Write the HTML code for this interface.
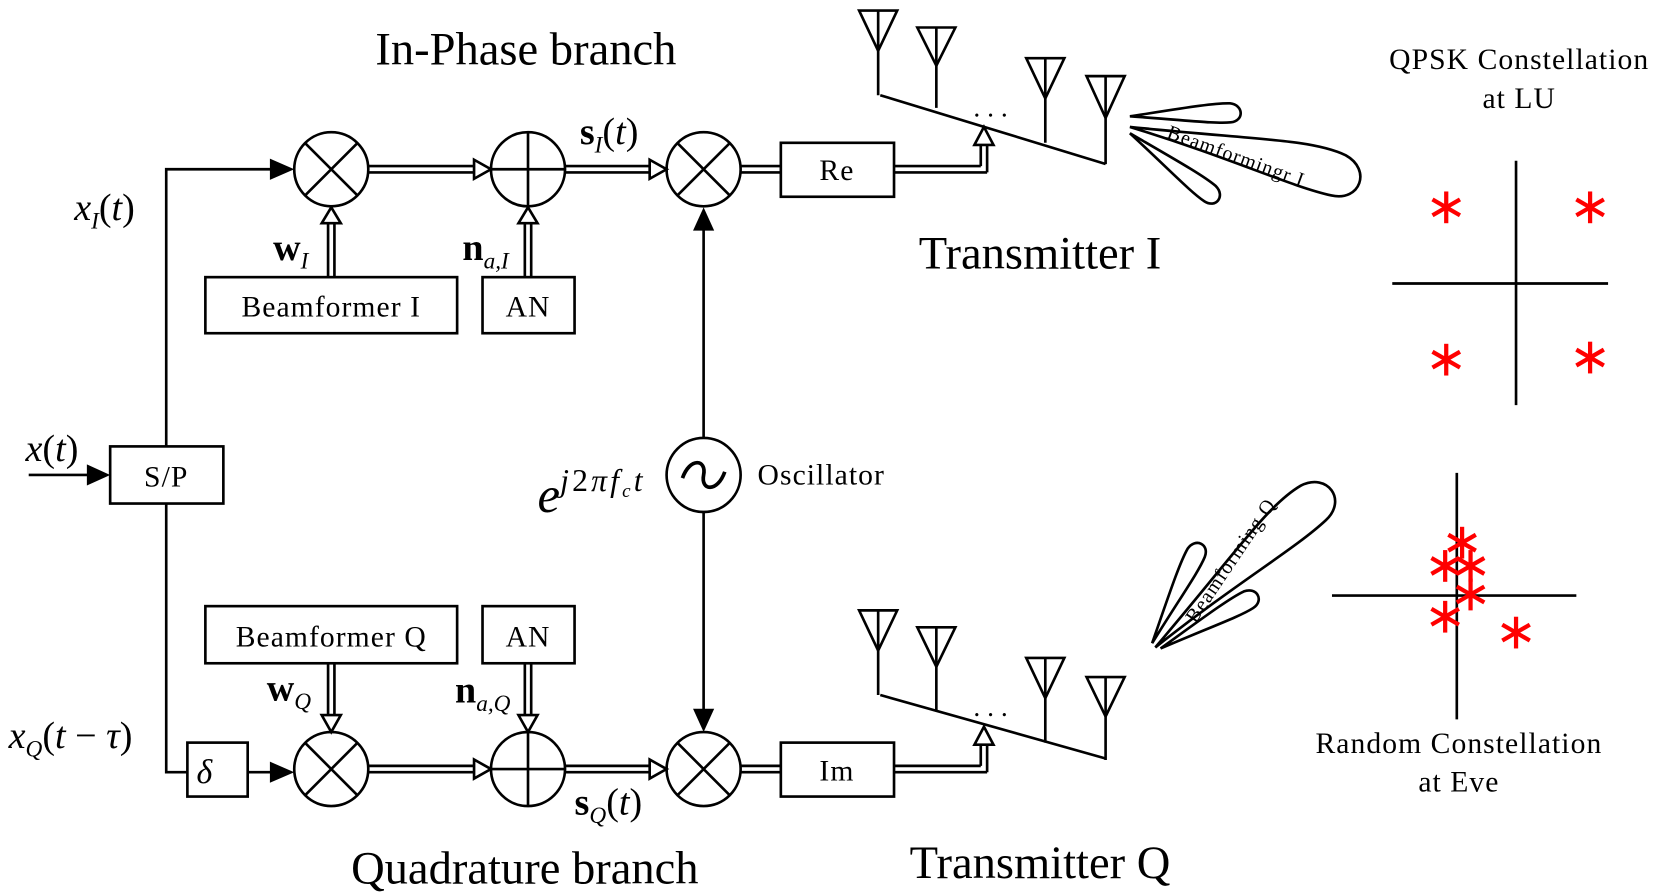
<!DOCTYPE html>
<html><head><meta charset="utf-8"><style>
html,body{margin:0;padding:0;background:#fff;}
svg{display:block;}
text{font-family:"Liberation Serif",serif;fill:#000;}
</style></head><body>
<svg width="1659" height="896" viewBox="0 0 1568 847" xmlns="http://www.w3.org/2000/svg">
<defs>
<g id="star"><g stroke="#f00" stroke-width="4" stroke-linecap="butt">
<line x1="0" y1="-15" x2="0" y2="15"/><line x1="-13" y1="-7.5" x2="13" y2="7.5"/><line x1="-13" y1="7.5" x2="13" y2="-7.5"/></g></g>
<g id="ant" fill="none" stroke="#000" stroke-width="2.5"><polygon points="-18,0 18,0 0,38"/><line x1="0" y1="0" x2="0" y2="80"/></g>
</defs>
<g fill="none" stroke="#000" stroke-width="2.5">
<circle cx="313" cy="160" r="35"/><circle cx="499" cy="160" r="35"/><circle cx="665" cy="160" r="35"/>
<circle cx="313" cy="727" r="35"/><circle cx="499" cy="727" r="35"/><circle cx="665" cy="727" r="35"/>
<circle cx="665" cy="449" r="35"/>
<path d="M288,135 L338,185 M338,135 L288,185 M640,135 L690,185 M690,135 L640,185 M288,702 L338,752 M338,702 L288,752 M640,702 L690,752 M690,702 L640,752"/>
<path d="M464,160 H534 M499,125 V195 M464,727 H534 M499,692 V762"/>
<path d="M645,452 C652,432 668,434 665,449 C662,464 678,466 685,446" stroke-width="3.5"/>
<rect x="194" y="262" width="238" height="53"/><rect x="456" y="262" width="87" height="53"/>
<rect x="738" y="135" width="107" height="51"/><rect x="738" y="702" width="107" height="51"/>
<rect x="104" y="422" width="107" height="54"/><rect x="177" y="702" width="57" height="51"/>
<rect x="194" y="573" width="238" height="54"/><rect x="456" y="573" width="87" height="54"/>
<path d="M27,449 H90 M157,422 V160 H262 M157,476 V730 H177 M234,730 H262 M665,414 V212 M665,484 V676"/>
<path d="M348,157 H450 M348,163 H450 M534,157 H616 M534,163 H616 M700,157 H738 M700,163 H738 M845,157 H927 M845,163 H933 M927,157 V136 M933,163 V136"/>
<path d="M348,724 H450 M348,730 H450 M534,724 H616 M534,730 H616 M700,724 H738 M700,730 H738 M845,724 H927 M845,730 H933 M927,724 V703 M933,730 V703"/>
<path d="M310,262 V210 M316,262 V210 M496,262 V210 M502,262 V210"/>
<path d="M310,627 V677 M316,627 V677 M496,627 V677 M502,627 V677"/>
</g>
<g fill="#fff" stroke="#000" stroke-width="2.5">
<polygon points="448,151 464,160 448,169"/><polygon points="614,151 630,160 614,169"/>
<polygon points="448,718 464,727 448,736"/><polygon points="614,718 630,727 614,736"/>
<polygon points="304,211 313,196 322,211"/><polygon points="490,211 499,196 508,211"/>
<polygon points="304,676 313,692 322,676"/><polygon points="490,676 499,692 508,676"/>
<polygon points="921,137 930,120 939,137"/><polygon points="921,704 930,687 939,704"/>
</g>
<g fill="#000">
<polygon points="255,150 278,160 255,170"/><polygon points="255,720 278,730 255,740"/>
<polygon points="82,439 104,449 82,459"/>
<polygon points="655,218 665,196 675,218"/><polygon points="655,670 665,692 675,670"/>
</g>
<g fill="none" stroke="#000" stroke-width="2.5">
<line x1="832" y1="90" x2="1045" y2="155"/>
<line x1="832" y1="657" x2="1045" y2="717"/>
</g>
<use href="#ant" transform="translate(830,10)"/>
<use href="#ant" transform="translate(885,26) scale(1,0.95)"/>
<use href="#ant" transform="translate(988,55)"/>
<use href="#ant" transform="translate(1045,72) scale(1,1.04)"/>
<use href="#ant" transform="translate(830,577)"/>
<use href="#ant" transform="translate(885,593) scale(1,0.98)"/>
<use href="#ant" transform="translate(988,622)"/>
<use href="#ant" transform="translate(1045,640) scale(1,0.98)"/>
<text x="920" y="110" font-size="26">. . .</text>
<text x="920" y="677" font-size="26">. . .</text>
<g fill="none" stroke="#000" stroke-width="2.5">
<g transform="translate(1068,120) rotate(12.5)"><path d="M0,0 C120,-14 170,-26 205,-18 C232,-10 228,22 200,22 C160,22 100,8 0,0Z"/></g>
<g transform="translate(1068,110) rotate(-2)"><path d="M0,0 C50,-6 80,-10 95,-9 C108,-7 108,8 95,9 C80,10 50,5 0,0Z"/></g>
<g transform="translate(1068,126) rotate(37)"><path d="M0,0 C50,-6 80,-10 95,-9 C108,-7 108,8 95,9 C80,10 50,5 0,0Z"/></g>
<g transform="translate(1092,612) rotate(-43)"><path d="M0,0 C120,-14 170,-26 205,-18 C232,-10 228,22 200,22 C160,22 100,8 0,0Z"/></g>
<g transform="translate(1089,608) rotate(-64)"><path d="M0,0 C50,-6 80,-10 95,-9 C108,-7 108,8 95,9 C80,10 50,5 0,0Z"/></g>
<g transform="translate(1097,613) rotate(-29)"><path d="M0,0 C50,-6 80,-10 95,-9 C108,-7 108,8 95,9 C80,10 50,5 0,0Z"/></g>
</g>
<text font-size="19" transform="translate(1102,130) rotate(20)" letter-spacing="1">Beamformingr  I</text>
<text font-size="19" transform="translate(1130,590) rotate(-56)" letter-spacing="1">Beamforming Q</text>
<g stroke="#000" stroke-width="2.5">
<line x1="1433" y1="152" x2="1433" y2="383"/><line x1="1316" y1="268" x2="1520" y2="268"/>
<line x1="1377" y1="447" x2="1377" y2="680"/><line x1="1259" y1="563" x2="1490" y2="563"/>
</g>
<use href="#star" x="1367" y="196"/><use href="#star" x="1503" y="196"/>
<use href="#star" x="1367" y="340"/><use href="#star" x="1503" y="338"/>
<use href="#star" x="1382" y="513"/><use href="#star" x="1366" y="535"/><use href="#star" x="1390" y="535"/>
<use href="#star" x="1390" y="562"/><use href="#star" x="1366" y="583"/><use href="#star" x="1433" y="598"/>
<g font-size="44" text-anchor="middle">
<text x="497" y="61">In-Phase branch</text>
<text x="496" y="835">Quadrature branch</text>
<text x="983" y="254">Transmitter I</text>
<text x="983" y="830">Transmitter Q</text>
</g>
<g font-size="28" text-anchor="middle" letter-spacing="1">
<text x="1436" y="65">QPSK Constellation</text>
<text x="1436" y="102">at LU</text>
<text x="1379" y="712">Random Constellation</text>
<text x="1379" y="748">at Eve</text>
<text x="313" y="299">Beamformer I</text>
<text x="499" y="299">AN</text>
<text x="313" y="611">Beamformer Q</text>
<text x="499" y="611">AN</text>
<text x="791" y="170">Re</text>
<text x="791" y="738">Im</text>
<text x="157" y="460">S/P</text>
</g>
<text x="716" y="458" font-size="28" letter-spacing="1">Oscillator</text>
<text x="193" y="740" font-size="32" font-style="italic" text-anchor="middle">δ</text>
<text x="70" y="208" font-size="36" font-style="italic">x<tspan font-size="22" dy="8">I</tspan><tspan dy="-8" font-style="normal">(</tspan>t<tspan font-style="normal">)</tspan></text>
<text x="24" y="436" font-size="36" font-style="italic">x<tspan font-style="normal">(</tspan>t<tspan font-style="normal">)</tspan></text>
<text x="8" y="707" font-size="36" font-style="italic">x<tspan font-size="22" dy="8">Q</tspan><tspan dy="-8" font-style="normal">(</tspan>t<tspan font-style="normal"> − </tspan>τ<tspan font-style="normal">)</tspan></text>
<text x="548" y="136" font-size="36"><tspan font-weight="bold">s</tspan><tspan font-size="22" dy="8" font-style="italic">I</tspan><tspan dy="-8">(</tspan><tspan font-style="italic">t</tspan>)</text>
<text x="543" y="770" font-size="36"><tspan font-weight="bold">s</tspan><tspan font-size="22" dy="8" font-style="italic">Q</tspan><tspan dy="-8">(</tspan><tspan font-style="italic">t</tspan>)</text>
<text x="258" y="246" font-size="36" font-weight="bold">w<tspan font-size="22" dy="8" font-weight="normal" font-style="italic">I</tspan></text>
<text x="437" y="246" font-size="36" font-weight="bold">n<tspan font-size="22" dy="8" font-weight="normal" font-style="italic">a,I</tspan></text>
<text x="252" y="662" font-size="36" font-weight="bold">w<tspan font-size="22" dy="8" font-weight="normal" font-style="italic">Q</tspan></text>
<text x="430" y="664" font-size="36" font-weight="bold">n<tspan font-size="22" dy="8" font-weight="normal" font-style="italic">a,Q</tspan></text>
<text x="508" y="484" font-size="48" font-style="italic">e<tspan font-size="30" dy="-20" letter-spacing="3">j</tspan><tspan font-size="30" font-style="normal" letter-spacing="3">2</tspan><tspan font-size="30" letter-spacing="3">πf</tspan><tspan font-size="18" dy="6">c</tspan><tspan font-size="30" dy="-6" dx="3">t</tspan></text>
</svg>
</body></html>
